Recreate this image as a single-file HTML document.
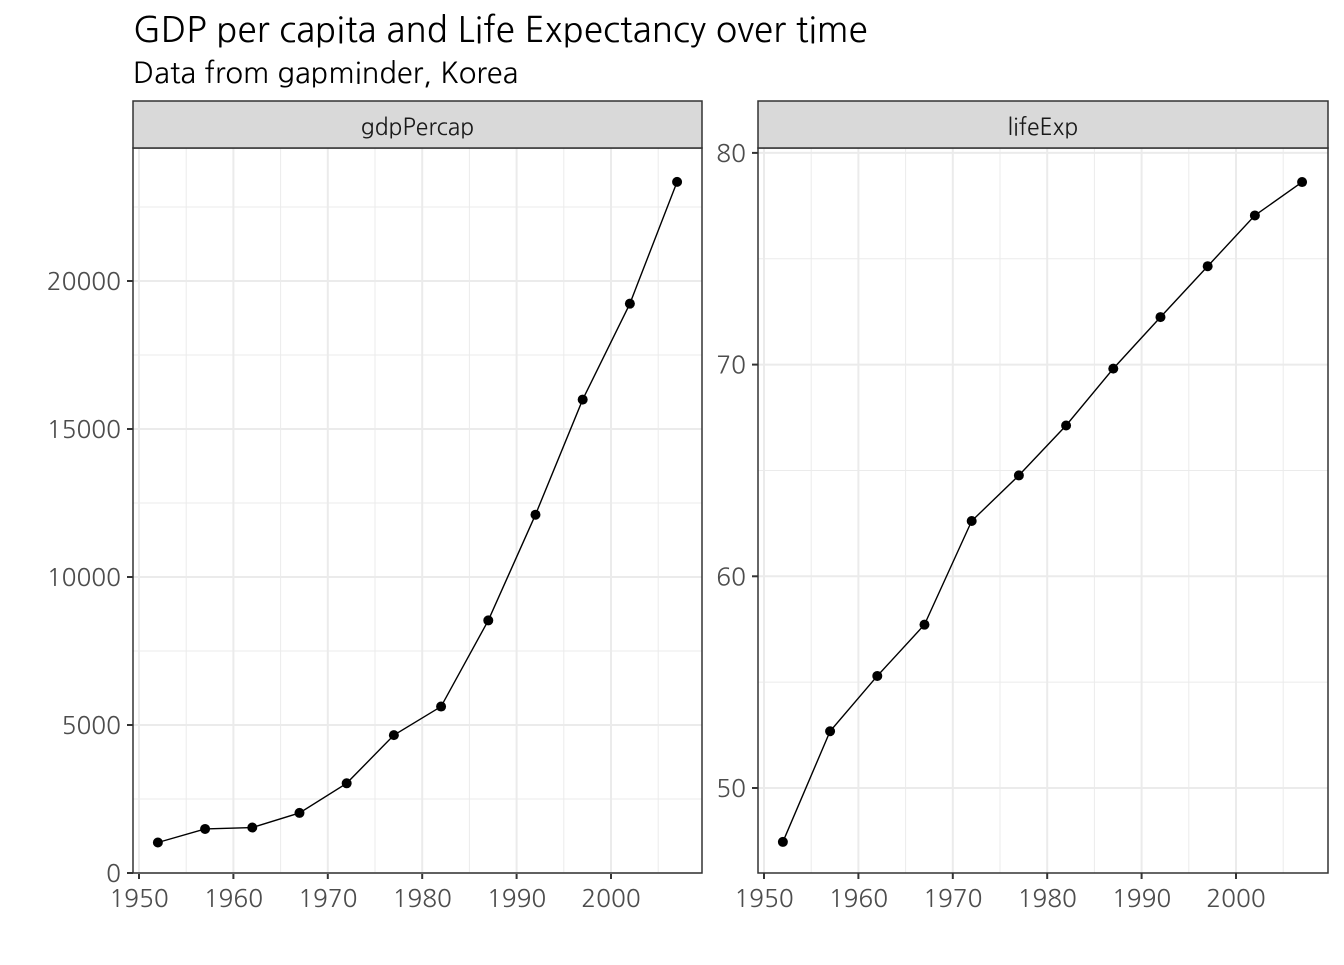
<!DOCTYPE html>
<html><head><meta charset="utf-8"><style>
body{margin:0;background:#fff;}
svg text{font-family:"NanumGothic","Liberation Sans",sans-serif;}
</style></head><body>
<svg id="chart" width="1344" height="960" xmlns="http://www.w3.org/2000/svg">
<text x="133" y="42" font-size="35" fill="#000">GDP per capita and Life Expectancy over time</text>
<text x="133" y="83" font-size="29" fill="#000">Data from gapminder, Korea</text>
</svg>
<script>
const years=[1952,1957,1962,1967,1972,1977,1982,1987,1992,1997,2002,2007];
const gdp=[1030.59,1487.59,1536.34,2029.23,3030.88,4657.22,5622.94,8533.09,12104.27,15993.53,19233.99,23348.14];
const lifeExp=[47.453,52.681,55.292,57.716,62.612,64.766,67.123,69.81,72.244,74.647,77.045,78.623];
const xTicks=[1950,1960,1970,1980,1990,2000];
const gdpTicks=[0,5000,10000,15000,20000];
const lifeTicks=[50,60,70,80];
const svg=document.getElementById('chart');
const NS='http://www.w3.org/2000/svg';
function mk(t,a,p){const e=document.createElementNS(NS,t);for(const k in a)e.setAttribute(k,a[k]);(p||svg).appendChild(e);return e;}
function panel(name,x0,x1,yTop,yBot,xs,ys,yTicks,yMinor,sy,label){
  const g=mk('g',{});
  
  
  const sx=v=>x0+6+(v-1950)*9.44;
  mk('rect',{x:x0,y:yTop,width:x1-x0,height:yBot-yTop,fill:'#fff'},g);
  const minorX=xTicks.map(v=>v+5);
  minorX.forEach(v=>{const X=sx(v);if(X<x1)mk('line',{x1:X,x2:X,y1:yTop,y2:yBot,stroke:'#ebebeb','stroke-width':1},g);});
  yMinor.forEach(v=>{const Y=sy(v);if(Y>yTop&&Y<yBot)mk('line',{x1:x0,x2:x1,y1:Y,y2:Y,stroke:'#ebebeb','stroke-width':1},g);});
  xTicks.forEach(v=>{const X=sx(v);mk('line',{x1:X,x2:X,y1:yTop,y2:yBot,stroke:'#ebebeb','stroke-width':2},g);
    mk('line',{x1:X,x2:X,y1:yBot,y2:yBot+6,stroke:'#333','stroke-width':2},g);
    const t=mk('text',{x:X,y:yBot+34,'font-size':24.5,fill:'#4d4d4d','text-anchor':'middle'},g);t.textContent=v;
    
    });
  yTicks.forEach(v=>{const Y=sy(v);mk('line',{x1:x0,x2:x1,y1:Y,y2:Y,stroke:'#ebebeb','stroke-width':2},g);
    mk('line',{x1:x0-6,x2:x0,y1:Y,y2:Y,stroke:'#333','stroke-width':2},g);
    const t=mk('text',{x:x0-12,y:Y+9,'font-size':24.5,fill:'#4d4d4d','text-anchor':'end'},g);t.textContent=v;
    
    });
  const line=mk('polyline',{points:xs.map((v,i)=>sx(v)+','+sy(ys[i])).join(' '),fill:'none',stroke:'#000','stroke-width':1.4},g);
  
  
  xs.forEach((v,i)=>{const c=mk('circle',{cx:sx(v),cy:sy(ys[i]),r:5,fill:'#000'},g);
    
    });
  mk('rect',{x:x0,y:yTop,width:x1-x0,height:yBot-yTop,fill:'none',stroke:'#333','stroke-width':1.5},g);
  mk('rect',{x:x0,y:101,width:x1-x0,height:yTop-101,fill:'#d9d9d9',stroke:'#333','stroke-width':1.5},g);
  const s=mk('text',{x:(x0+x1)/2,y:135,'font-size':23,fill:'#1a1a1a','text-anchor':'middle'},g);s.textContent=label;
  
  
}
panel('gdp',133,702,148,873,years,gdp,gdpTicks,[2500,7500,12500,17500,22500],v=>873-v*148/5000,'gdpPercap');
panel('life',758,1328,148,873,years,lifeExp,lifeTicks,[45,55,65,75],v=>788-(v-50)*21.17,'lifeExp');
</script>
</body></html>
